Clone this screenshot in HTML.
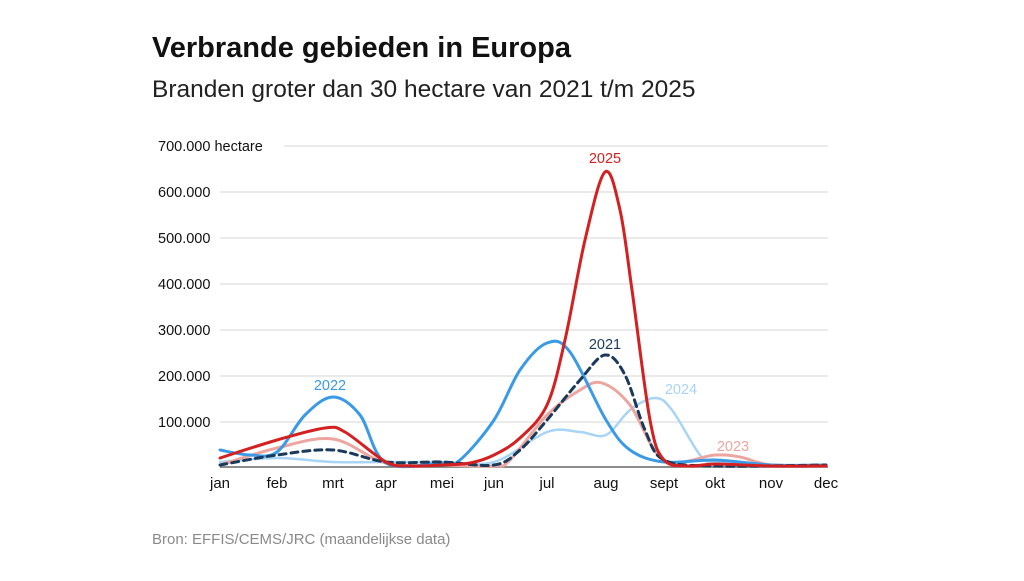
<!DOCTYPE html>
<html><head><meta charset="utf-8"><style>
body{margin:0;width:1024px;height:576px;background:#fff;font-family:"Liberation Sans",sans-serif;overflow:hidden}
</style></head><body>
<svg width="1024" height="576" xmlns="http://www.w3.org/2000/svg" font-family="Liberation Sans, sans-serif">
<text x="152" y="57" font-size="29" font-weight="bold" fill="#111">Verbrande gebieden in Europa</text>
<text x="152" y="97" font-size="24.5" fill="#222">Branden groter dan 30 hectare van 2021 t/m 2025</text>
<g stroke="#ddd" stroke-width="1.3">
<line x1="284" y1="146" x2="828" y2="146"/>
<line x1="220" y1="192" x2="828" y2="192"/>
<line x1="220" y1="238" x2="828" y2="238"/>
<line x1="220" y1="284" x2="828" y2="284"/>
<line x1="220" y1="330" x2="828" y2="330"/>
<line x1="220" y1="376" x2="828" y2="376"/>
<line x1="220" y1="422" x2="828" y2="422"/>
</g>
<line x1="220" y1="467" x2="828" y2="467" stroke="#666" stroke-width="1.5"/>
<g font-size="14.5" fill="#111">
<text x="158" y="151">700.000 hectare</text>
<text x="158" y="197">600.000</text>
<text x="158" y="243">500.000</text>
<text x="158" y="289">400.000</text>
<text x="158" y="335">300.000</text>
<text x="158" y="381">200.000</text>
<text x="158" y="427">100.000</text>
</g>
<g font-size="15" fill="#111" text-anchor="middle">
<text x="220" y="488">jan</text><text x="277" y="488">feb</text><text x="333" y="488">mrt</text>
<text x="386" y="488">apr</text><text x="442" y="488">mei</text><text x="494" y="488">jun</text>
<text x="547" y="488">jul</text><text x="606" y="488">aug</text><text x="664" y="488">sept</text>
<text x="715" y="488">okt</text><text x="771" y="488">nov</text><text x="826" y="488">dec</text>
</g>
<g fill="none" stroke-width="3" stroke-linejoin="round" stroke-linecap="round">
<path id="p24" stroke="#a8d4f5" stroke-width="2.5"/>
<path id="p23" stroke="#eda59f"/>
<path id="p22" stroke="#3a9ae6"/>
<path id="p21" stroke="#1a3a5c" stroke-dasharray="7,5"/>
<path id="p25" stroke="#d42020"/>
</g>
<g font-size="14.5" text-anchor="middle">
<text x="605" y="163" fill="#d42020">2025</text>
<text x="605" y="349" fill="#1a3a5c">2021</text>
<text x="681" y="394" fill="#a8d4f5">2024</text>
<text x="733" y="451" fill="#eda59f">2023</text>
<text x="330" y="390" fill="#3a9ae6">2022</text>
</g>
<text x="152" y="544" font-size="15" fill="#8a8a8a">Bron: EFFIS/CEMS/JRC (maandelijkse data)</text>
</svg>
<script>
function cr(p){let d="M"+p[0].join(",");for(let i=0;i<p.length-1;i++){const a=p[i-1]||p[i],b=p[i],c=p[i+1],e=p[i+2]||c;
d+=" C"+(b[0]+(c[0]-a[0])/6)+","+(b[1]+(c[1]-a[1])/6)+" "+(c[0]-(e[0]-b[0])/6)+","+(c[1]-(e[1]-b[1])/6)+" "+c[0]+","+c[1];}return d;}
const S={
p22:[[220,450],[250,455],[277,452],[305,415],[333,397],[360,415],[386,463],[442,463],[460,460],[494,420],[520,370],[547,343],[570,352],[606,420],[630,450],[664,462],[715,460],[771,465],[826,465]],
p25:[[220,458],[277,440],[325,428],[345,432],[386,462],[410,466],[442,465],[470,463],[494,455],[520,438],[547,405],[565,340],[585,240],[605,172],[620,210],[632,290],[650,420],[664,460],[690,466],[715,464],[771,466],[826,466]],
p23:[[220,465],[277,448],[333,439],[386,463],[442,465],[494,466],[510,460],[547,415],[580,390],[602,383],[630,405],[664,460],[715,455],[740,457],[771,465],[826,466]],
p24:[[220,462],[277,458],[333,462],[386,462],[442,462],[494,462],[547,432],[580,432],[606,435],[630,410],[655,398],[672,410],[700,455],[715,462],[771,465],[826,465]],
p21:[[220,465],[277,455],[333,450],[386,462],[442,462],[494,465],[520,450],[547,420],[580,380],[605,355],[625,375],[645,430],[664,460],[715,466],[826,465]]};
for(const k in S)document.getElementById(k).setAttribute("d",cr(S[k]));
</script>
</body></html>
